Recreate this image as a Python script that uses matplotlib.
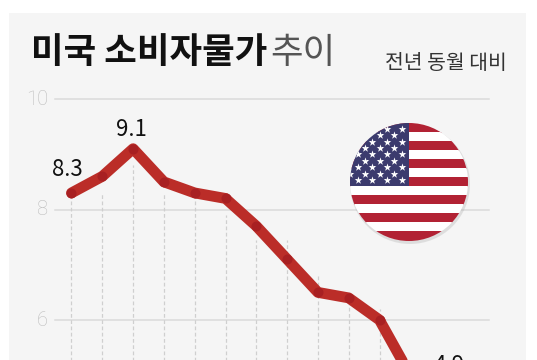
import numpy as np
import matplotlib
matplotlib.use('Agg')
import matplotlib.pyplot as plt
from matplotlib.patches import Circle, Rectangle

plt.rcParams['font.family'] = ['Noto Sans CJK KR', 'DejaVu Sans']

# 미국 CPI 전년 동월 대비
values = [8.3, 8.6, 9.1, 8.5, 8.3, 8.2, 7.7, 7.1, 6.5, 6.4, 6.0, 5.0, 4.9]
# 점선이 시작되는 높이
dash_tops = [8.3, 8.3, 8.8, 8.3, 8.2, 7.9, 7.45, 7.45, 6.8, 6.5, 6.2, 5.0, 4.9]
y_ticks = [6, 8, 10]
title_bold = '미국 소비자물가'
title_light = '추이'
subtitle = '전년 동월 대비'
value_labels = {0: '8.3', 2: '9.1', 12: '4.9'}

W, H = 537, 360
fig = plt.figure(figsize=(W / 100, H / 100), dpi=100, facecolor='white')

# 픽셀 -> 데이터 변환 (x: 71.5px + 30.8px*i, y: 10 = 99px, 6 = 320px)
dx = 30.8
x0 = 71.5
py = (320 - 99) / 4
ax = fig.add_axes([0, 0, 1, 1])
ax.set_xlim(-x0 / dx, (W - x0) / dx)
ax.set_ylim(10 - (H - 99) / py, 10 + 99 / py)
ax.axis('off')

def to_x(px):
    return (px - x0) / dx

def to_y(px):
    return 10 - (px - 99) / py

# 배경 패널
ax.add_patch(Rectangle((to_x(9), to_y(H + 5)), (526 - 9) / dx, (H + 5 - 13) / py,
                       fc='#f5f5f5', ec='none', zorder=0))

# 가로 그리드
for t in y_ticks:
    ax.plot([to_x(55), to_x(489)], [t, t], color='#dadada', lw=1.1, zorder=1)
    ax.text(to_x(48), t, str(t), ha='right', va='center', fontsize=14.5,
            color='#bdbdbd', family='Roboto', fontweight='light')

# 세로 점선
xs = np.arange(len(values))
for i in range(11):
    ax.plot([i, i], [to_y(H + 5), dash_tops[i]], color='#cfcfcf', lw=0.9,
            ls=(0, (3, 2)), zorder=1)

# 라인
ax.plot(xs, values, color='#bb2d28', lw=7.8, solid_joinstyle='round', solid_capstyle='round', zorder=3)
ax.scatter(xs, values, s=52, color='#a82022', lw=0, zorder=4)

offsets = {0: (-0.15, 0.416), 2: (-0.06, 0.357), 12: (0.26, 0.27)}
for i, lab in value_labels.items():
    ax.text(i + offsets[i][0], values[i] + offsets[i][1], lab, ha='center', va='center',
            fontsize=16, color='#111111')

# 제목
ax.text(to_x(31), to_y(53), title_bold, ha='left', va='center', fontsize=25.5,
        fontweight='bold', color='#111111')
ax.text(to_x(270), to_y(53), title_light, ha='left', va='center', fontsize=25.5,
        fontweight='light', color='#555555')
ax.text(to_x(507), to_y(63), subtitle, ha='right', va='center', fontsize=14.7,
        color='#333333')

# 성조기 (픽셀 좌표 전용 축)
flag = fig.add_axes([0, 0, 1, 1], facecolor='none')
flag.set_xlim(0, W)
flag.set_ylim(H, 0)
flag.axis('off')
cx, cy, r = 409, 182, 59
flag.add_patch(Circle((cx + 1, cy + 2), r + 1, fc='#999999', ec='none', alpha=0.25, zorder=1))
clip = Circle((cx, cy), r, transform=flag.transData)
top = 123.3
sh = 9.0
for k in range(13):
    c = '#b22234' if k % 2 == 0 else 'white'
    p = flag.add_patch(Rectangle((cx - r, top + k * sh), 2 * r, sh + 0.2, fc=c, ec='none', zorder=2))
    p.set_clip_path(clip)
p = flag.add_patch(Rectangle((cx - r, top), r, 7 * sh, fc='#3c3b6e', ec='none', zorder=3))
p.set_clip_path(clip)
for row in range(9):
    n = 6 if row % 2 == 0 else 5
    sy = 180 - (8 - row) * 6.4
    for j in range(n):
        sx = 401.7 - j * 14.7 if row % 2 == 0 else 394.3 - j * 14.7
        s = flag.scatter([sx], [sy], marker='*', s=34, color='white', lw=0, zorder=4)
        s.set_clip_path(clip)

fig.savefig('out.png', dpi=100)
